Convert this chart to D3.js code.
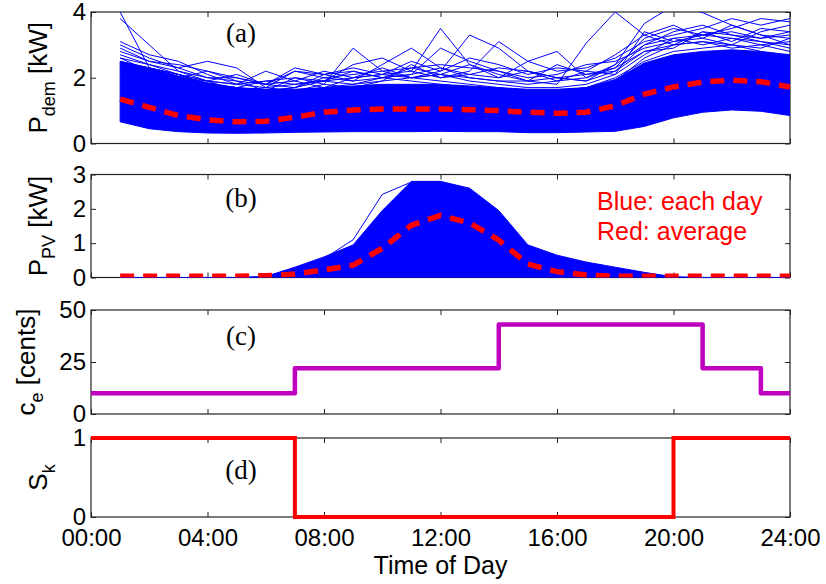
<!DOCTYPE html>
<html>
<head>
<meta charset="utf-8">
<script src="https://cdn.jsdelivr.net/npm/d3@7/dist/d3.min.js"></script>
<style>
  body { margin: 0; background: #fff; }
  svg { display: block; font-family: "Liberation Sans", Arial, sans-serif; }
</style>
</head>
<body>
<svg id="chart" width="826" height="584"></svg>
<script>
// hour of day for each sample (hourly profiles)
var hours = [1, 2, 3, 4, 5, 6, 7, 8, 9, 10, 11, 12, 13, 14, 15, 16, 17, 18, 19, 20, 21, 22, 23, 24];

// (a) demand: dense band of daily profiles, a few spiky days, and the average
var demLow = [0.66, 0.45, 0.36, 0.32, 0.31, 0.32, 0.34, 0.35, 0.36, 0.36, 0.36, 0.37,
  0.36, 0.36, 0.33, 0.33, 0.35, 0.37, 0.52, 0.78, 0.95, 1.02, 0.98, 0.85];
var demCore = [2.5, 2.3, 2.05, 1.85, 1.7, 1.65, 1.65, 1.7, 1.75, 1.8, 1.8, 1.8,
  1.75, 1.7, 1.65, 1.65, 1.7, 1.95, 2.45, 2.7, 2.8, 2.85, 2.8, 2.7];
var demAvg = [1.35, 1.1, 0.85, 0.72, 0.66, 0.68, 0.8, 0.95, 1.02, 1.05, 1.05, 1.05,
  1.03, 1.0, 0.95, 0.92, 0.95, 1.15, 1.5, 1.72, 1.87, 1.93, 1.88, 1.72];
var demDays = [
  [4.0, 2.3, 2.1, 1.8, 1.7, 1.6, 1.7, 1.9, 1.8, 2.0, 1.9, 1.8, 1.7, 1.6, 1.5, 1.6, 1.7, 2.0, 2.5, 2.8, 2.9, 3.0, 2.8, 2.6],
  [3.8, 3.0, 2.2, 1.9, 1.6, 1.5, 1.6, 1.7, 1.8, 1.9, 2.0, 1.9, 1.8, 1.7, 1.6, 1.5, 1.6, 1.9, 2.6, 3.0, 3.1, 2.9, 3.0, 2.8],
  [3.0, 2.6, 2.3, 2.5, 2.3, 1.7, 1.6, 1.8, 2.9, 2.2, 2.0, 2.1, 1.9, 1.8, 1.7, 1.7, 1.8, 2.1, 2.7, 3.2, 3.3, 3.2, 3.1, 3.0],
  [2.8, 2.5, 2.4, 2.2, 2.0, 1.8, 2.2, 2.0, 1.9, 2.4, 2.9, 2.3, 2.0, 1.9, 1.8, 1.9, 2.0, 2.3, 3.2, 3.5, 3.3, 3.4, 3.2, 3.3],
  [2.6, 2.4, 2.2, 2.0, 1.9, 1.6, 1.7, 2.1, 2.3, 2.1, 2.2, 3.5, 2.4, 2.1, 1.9, 1.8, 3.05, 4.0, 3.3, 3.0, 3.4, 3.1, 3.5, 3.4],
  [2.5, 2.3, 2.1, 1.9, 1.8, 2.2, 1.9, 1.7, 2.0, 2.3, 2.0, 2.2, 3.3, 2.9, 2.2, 2.0, 1.9, 2.2, 3.0, 3.2, 3.0, 3.2, 3.0, 3.1],
  [2.4, 2.2, 2.0, 1.8, 1.7, 1.6, 2.0, 1.8, 1.7, 1.9, 2.4, 2.0, 2.2, 3.1, 2.5, 2.8, 2.0, 2.4, 3.65, 4.2, 3.98, 3.6, 3.3, 3.2],
  [2.7, 2.4, 2.1, 1.8, 1.6, 1.7, 1.8, 1.9, 2.2, 2.0, 2.1, 2.3, 2.1, 2.0, 2.5, 2.2, 2.3, 2.6, 3.1, 3.3, 3.5, 3.8, 3.6, 3.8],
  [2.5, 2.2, 2.0, 2.2, 1.9, 1.8, 1.7, 2.0, 2.1, 2.2, 2.3, 2.4, 2.3, 2.2, 2.0, 2.1, 2.4, 2.5, 2.9, 3.1, 3.3, 3.5, 3.8, 3.7],
  [2.2, 2.3, 2.1, 1.9, 2.1, 1.8, 1.9, 2.2, 2.0, 2.1, 2.5, 2.2, 2.6, 2.4, 2.1, 2.3, 2.2, 2.7, 3.3, 3.6, 3.2, 3.0, 3.4, 3.6],
  [2.3, 2.0, 1.9, 1.8, 1.7, 1.9, 1.8, 1.9, 2.4, 2.6, 2.2, 2.0, 2.1, 2.3, 2.2, 2.0, 2.1, 2.2, 2.8, 2.9, 3.4, 3.3, 3.1, 2.9],
  [2.6, 2.2, 2.0, 1.9, 1.8, 1.7, 2.2, 2.1, 1.9, 2.0, 2.1, 2.9, 2.5, 2.2, 1.9, 2.0, 1.9, 2.4, 3.0, 3.4, 3.6, 3.3, 3.2, 3.4],
  [3.1, 2.7, 2.5, 2.1, 1.8, 1.9, 2.0, 1.9, 2.0, 2.1, 2.0, 2.1, 2.0, 1.9, 1.9, 2.4, 2.1, 2.3, 2.8, 3.0, 3.1, 3.0, 2.9, 3.2],
  [2.9, 2.5, 2.3, 2.0, 2.0, 1.8, 2.3, 2.1, 2.2, 2.0, 2.3, 2.1, 2.4, 2.0, 2.2, 1.9, 2.2, 2.1, 3.4, 3.1, 3.2, 3.6, 3.3, 3.0]
];

// (b) PV output: upper edge of the daily band, one outlier day, and the average
var pvTop = [0, 0, 0, 0, 0, 0.03, 0.3, 0.6, 0.95, 1.95, 2.8, 2.8,
  2.6, 1.95, 0.95, 0.65, 0.45, 0.3, 0.15, 0.02, 0, 0, 0, 0];
var pvDays = [
  [0, 0, 0, 0, 0, 0.02, 0.28, 0.55, 1.1, 2.42, 2.78, 2.78, 2.55, 1.9, 0.9, 0.6, 0.4, 0.25, 0.1, 0.01, 0, 0, 0, 0]
];
var pvAvg = [0.04, 0.04, 0.04, 0.04, 0.04, 0.05, 0.1, 0.22, 0.36, 0.85, 1.52, 1.81,
  1.59, 1.09, 0.39, 0.17, 0.07, 0.04, 0.04, 0.04, 0.04, 0.04, 0.04, 0.04];

// (c) electricity price, step starts [h] and levels [cents]
var priceTimes = [0, 7, 14, 21, 23, 24];
var priceValues = [10, 22, 43, 22, 10, 10];

// (d) switching signal
var switchTimes = [0, 7, 20, 24];
var switchValues = [1, 0, 1, 1];

var xTicks = [0, 4, 8, 12, 16, 20, 24];
var xTickLabels = ['00:00', '04:00', '08:00', '12:00', '16:00', '20:00', '24:00'];

var panels = [
  {id: 'a', top: 12, bottom: 143.5, domain: [0, 4], ticks: [0, 2, 4], label: ['P', 'dem', ' [kW]'], tagY: 42},
  {id: 'b', top: 174.5, bottom: 277.5, domain: [0, 3], ticks: [0, 1, 2, 3], label: ['P', 'PV', ' [kW]'], tagY: 207},
  {id: 'c', top: 310, bottom: 414, domain: [0, 50], ticks: [0, 25, 50], label: ['c', 'e', ' [cents]'], tagY: 345},
  {id: 'd', top: 438, bottom: 517, domain: [0, 1], ticks: [0, 1], label: ['S', 'k', ''], tagY: 479}
];

var svg = d3.select('#chart');
var x = d3.scaleLinear().domain([0, 24]).range([91, 790]);
var BLUE = '#0000ff';
var RED = '#ff0000';


/**
 * Draws the box, inward ticks and labels of one panel.
 * @param {Object} p panel settings
 * @param {boolean} showX whether to label the time axis
 * @return {Object} y scale and clipped plot group
 */
function drawPanel(p, showX) {
  var y = d3.scaleLinear().domain(p.domain).range([p.bottom, p.top]);
  var g = svg.append('g').attr('class', 'panel-' + p.id);

  var axes = [
    {axis: d3.axisBottom(x), t: 'translate(0,' + p.bottom + ')', labels: showX},
    {axis: d3.axisTop(x), t: 'translate(0,' + p.top + ')', labels: false},
    {axis: d3.axisLeft(y), t: 'translate(' + x(0) + ',0)', labels: true},
    {axis: d3.axisRight(y), t: 'translate(' + x(24) + ',0)', labels: false}
  ];
  axes.forEach(function(a, i) {
    var ax = a.axis.tickSizeInner(-5).tickSizeOuter(0).tickPadding(i < 2 ? 12 : 5);
    if (i < 2) {
      ax.tickValues(xTicks).tickFormat(a.labels ? function(d, k) { return xTickLabels[k]; } : '');
    } else {
      ax.tickValues(p.ticks).tickFormat(a.labels ? d3.format('d') : '');
    }
    var ga = g.append('g').attr('transform', a.t).call(ax);
    ga.select('.domain').remove();
    ga.selectAll('line').attr('stroke', '#222');
    ga.selectAll('text').attr('font-size', 24).attr('fill', '#000')
        .attr('font-family', '"Liberation Sans", Arial, sans-serif');
  });

  g.append('rect')
      .attr('x', x(0)).attr('y', p.top)
      .attr('width', x(24) - x(0)).attr('height', p.bottom - p.top)
      .attr('fill', 'none').attr('stroke', '#222').attr('stroke-width', 1.2);

  // y label with subscript, rotated
  var labelX = p.id === 'c' ? 35 : 47;
  var lab = g.append('text')
      .attr('transform', 'translate(' + labelX + ',' + (p.top + p.bottom) / 2 + ') rotate(-90)')
      .attr('text-anchor', 'middle').attr('font-size', 26).attr('fill', '#000');
  lab.append('tspan').text(p.label[0]);
  lab.append('tspan').attr('font-size', 18).attr('dy', 8).text(p.label[1]);
  lab.append('tspan').attr('dy', -8).text(p.label[2]);

  svg.append('clipPath').attr('id', 'clip-' + p.id)
    .append('rect')
      .attr('x', x(0)).attr('y', p.top)
      .attr('width', x(24) - x(0)).attr('height', p.bottom - p.top);
  var plot = svg.append('g').attr('clip-path', 'url(#clip-' + p.id + ')');

  return {y: y, plot: plot};
}


/**
 * Adds the (a)/(b)... tag inside a panel.
 * @param {Object} p panel settings
 */
function drawTag(p) {
  svg.append('text')
      .attr('x', 241).attr('y', p.tagY)
      .attr('text-anchor', 'middle')
      .attr('font-family', '"Liberation Serif", "Times New Roman", serif')
      .attr('font-size', 27).attr('fill', '#000')
      .text('(' + p.id + ')');
}


function hourLine(y) {
  return d3.line().x(function(d, i) { return x(hours[i]); }).y(function(d) { return y(d); });
}

function hourBand(y, low) {
  return d3.area()
      .x(function(d, i) { return x(hours[i]); })
      .y0(function(d, i) { return y(low ? low[i] : 0); })
      .y1(function(d) { return y(d); });
}

function drawAverage(plot, y, values) {
  plot.append('path').datum(values)
      .attr('d', hourLine(y))
      .attr('fill', 'none').attr('stroke', RED)
      .attr('stroke-width', 5.5).attr('stroke-dasharray', '14,9');
}

// (a) demand
var pa = drawPanel(panels[0], false);
pa.plot.selectAll('.day').data(demDays).enter().append('path')
    .attr('d', hourLine(pa.y))
    .attr('fill', 'none').attr('stroke', BLUE).attr('stroke-width', 1);
pa.plot.append('path').datum(demCore)
    .attr('d', hourBand(pa.y, demLow))
    .attr('fill', BLUE).attr('stroke', BLUE).attr('stroke-width', 1);
drawAverage(pa.plot, pa.y, demAvg);
drawTag(panels[0]);

// (b) PV
var pb = drawPanel(panels[1], false);
pb.plot.append('path').datum(pvTop)
    .attr('d', hourBand(pb.y, null))
    .attr('fill', BLUE).attr('stroke', BLUE).attr('stroke-width', 1);
pb.plot.selectAll('.day').data(pvDays).enter().append('path')
    .attr('d', hourLine(pb.y))
    .attr('fill', 'none').attr('stroke', BLUE).attr('stroke-width', 1);
drawAverage(pb.plot, pb.y, pvAvg);
drawTag(panels[1]);

svg.append('text').attr('x', 597).attr('y', 210)
    .attr('font-size', 25).attr('fill', RED).text('Blue: each day');
svg.append('text').attr('x', 597).attr('y', 240)
    .attr('font-size', 25).attr('fill', RED).text('Red: average');

// (c) price
var pc = drawPanel(panels[2], false);
var stepLine = function(y, times) {
  return d3.line().curve(d3.curveStepAfter)
      .x(function(d, i) { return x(times[i]); }).y(function(d) { return y(d); });
};
pc.plot.append('path').datum(priceValues)
    .attr('d', stepLine(pc.y, priceTimes))
    .attr('fill', 'none').attr('stroke', '#c000c0')
    .attr('stroke-width', 4.5).attr('stroke-linejoin', 'round');
drawTag(panels[2]);

// (d) switching
var pd = drawPanel(panels[3], true);
svg.append('g').append('path').datum(switchValues)
    .attr('d', stepLine(pd.y, switchTimes))
    .attr('fill', 'none').attr('stroke', RED)
    .attr('stroke-width', 4);
drawTag(panels[3]);

svg.append('text')
    .attr('x', (x(0) + x(24)) / 2).attr('y', 574)
    .attr('text-anchor', 'middle').attr('font-size', 25).attr('fill', '#000')
    .text('Time of Day');
</script>
</body>
</html>
